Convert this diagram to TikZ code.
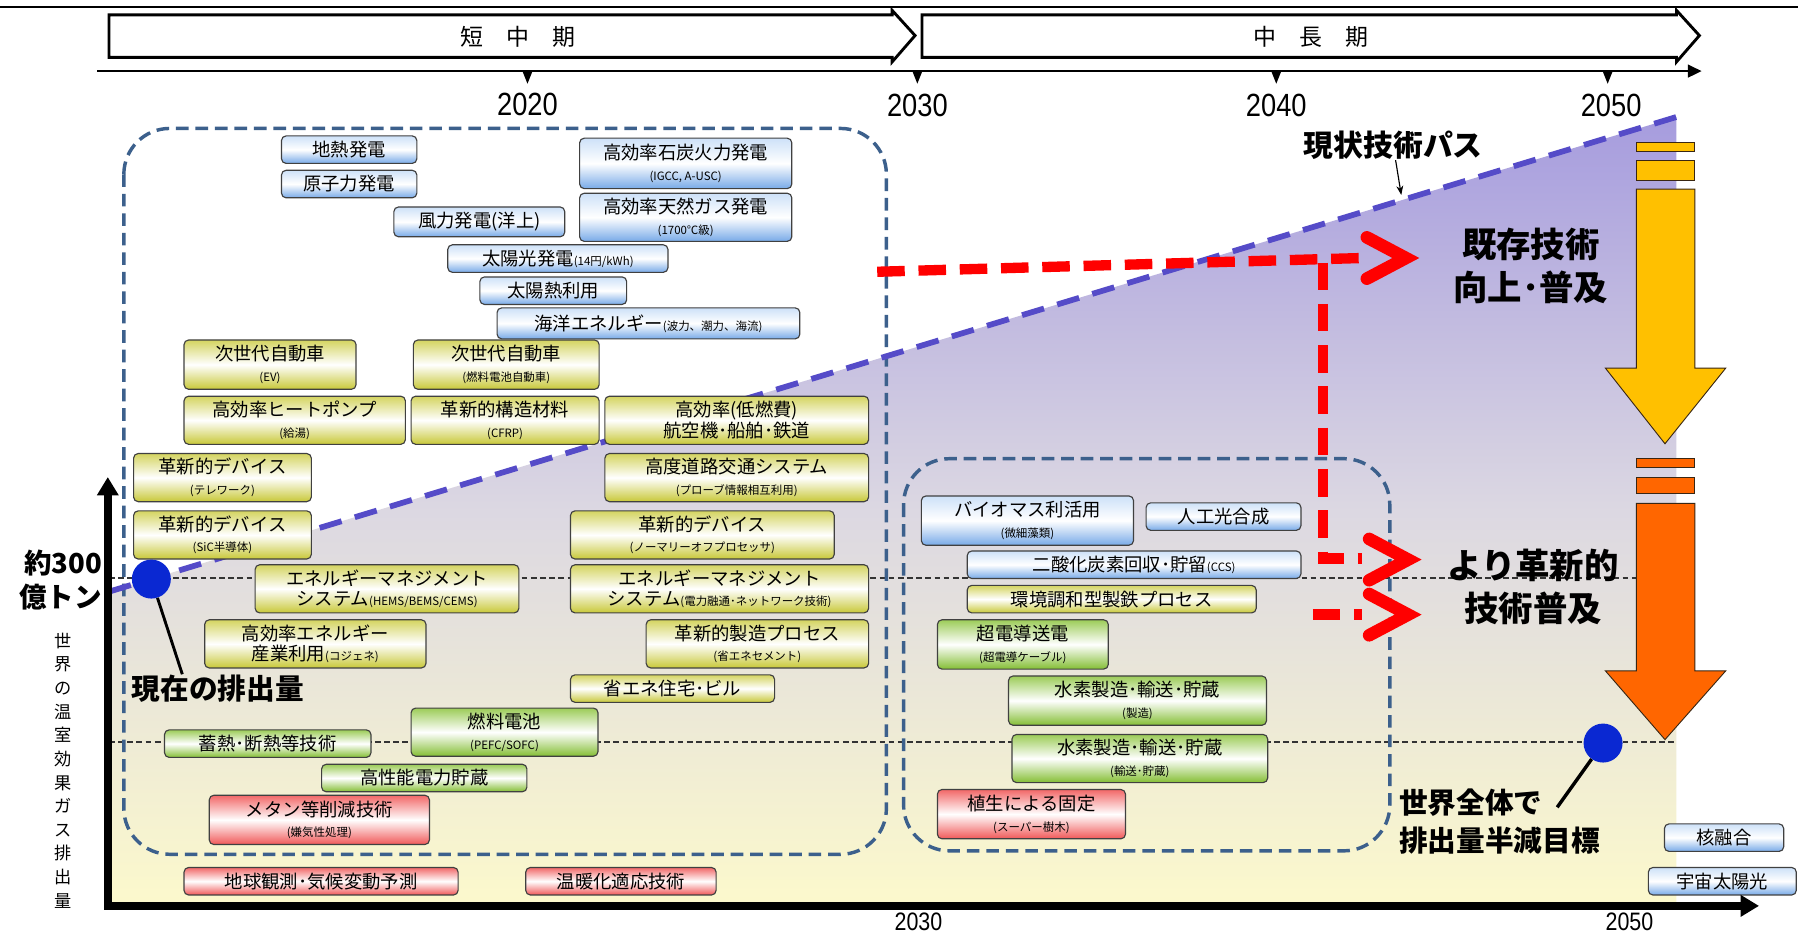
\documentclass[tikz,border=0pt]{standalone}
\usepackage{fontspec}
\usepackage{graphicx}
\setmainfont{Noto Sans CJK JP}
\newfontfamily\numfont{Liberation Sans}
\usetikzlibrary{arrows.meta}
\definecolor{bluetop}{RGB}{205,225,248}
\definecolor{bluebot}{RGB}{120,170,232}
\definecolor{yeltop}{RGB}{212,212,96}
\definecolor{yelbot}{RGB}{200,200,56}
\definecolor{grntop}{RGB}{156,204,88}
\definecolor{grnbot}{RGB}{132,190,52}
\definecolor{redtop}{RGB}{242,104,104}
\definecolor{redbot}{RGB}{240,88,88}
\definecolor{regblue}{RGB}{60,96,140}
\definecolor{pathpurple}{RGB}{85,75,200}
\definecolor{dotblue}{RGB}{10,40,210}
\definecolor{goldc}{RGB}{255,192,0}
\definecolor{orngc}{RGB}{255,102,0}
\definecolor{bgtop}{RGB}{166,156,222}
\definecolor{bgmid}{RGB}{220,216,226}
\definecolor{bgbot}{RGB}{252,249,204}
\newcommand{\smtxt}[1]{{\fontsize{10}{12}\selectfont #1}}
\newcommand{\mybox}[7]{\node[#2, minimum width={(#5-#3)*1pt}, minimum height={(#6-#4)*1pt}, anchor=north west] (#1) at (#3,#4) {#7};}
\tikzset{
  tbase/.style={draw=black!75, line width=1pt, rounded corners=4pt, inner sep=0pt, align=center, font=\fontsize{16}{18}\selectfont},
  bluebox/.style={tbase, top color=bluetop, bottom color=bluebot, middle color=white},
  yelbox/.style={tbase, top color=yeltop, bottom color=yelbot, middle color=white},
  grnbox/.style={tbase, top color=grntop, bottom color=grnbot, middle color=white},
  redbox/.style={tbase, top color=redtop, bottom color=redbot, middle color=white},
  regbox/.style={draw=regblue, line width=3pt, dash pattern=on 11pt off 6pt, rounded corners=40pt},
  pathline/.style={draw=pathpurple, line width=5pt, dash pattern=on 20pt off 12pt},
  hdash/.style={draw=black!80, line width=1.2pt, dash pattern=on 5pt off 3pt},
  reddash/.style={draw=red, line width=9pt, dash pattern=on 24pt off 12pt},
  redchev/.style={draw=red, line width=11pt, line join=miter, line cap=round},
  bigbold/.style={font=\fontsize{30}{38}\selectfont\bfseries, align=center, inner sep=0pt},
  midbold/.style={font=\fontsize{25}{33}\selectfont\bfseries, inner sep=0pt},
  yearlbl/.style={font=\fontsize{28}{28}\selectfont\numfont, inner sep=0pt},
  byearlbl/.style={font=\fontsize{22}{22}\selectfont\numfont, inner sep=0pt},
  phase/.style={font=\fontsize{20}{20}\selectfont, inner sep=0pt},
  axisline/.style={line width=7pt, black},
  goldarrow/.style={fill=goldc, draw=black!70!brown, line width=0.8pt},
  orngarrow/.style={fill=orngc, draw=black!70!brown, line width=0.8pt},
  dot/.style={circle, fill=dotblue, minimum size=34pt, inner sep=0pt}
}
\begin{document}
\begin{tikzpicture}[x=1pt,y=-1pt]
\useasboundingbox (0,0) rectangle (1568,816);
\clip (0,0) rectangle (1568,816);
\fill[white] (0,0) rectangle (1568,816);

% top rule and phase arrows
\draw[line width=1.5pt] (0,6) -- (1568,6);
\draw[line width=2.5pt, fill=white] (95,13) -- (778,13) -- (778,9) -- (798,31) -- (778,54) -- (778,50) -- (95,50) -- cycle;
\draw[line width=2.5pt, fill=white] (804,13) -- (1462,13) -- (1462,9) -- (1482,31) -- (1462,54) -- (1462,50) -- (804,50) -- cycle;
\node[phase] (short) at (452,32) {短\quad 中\quad 期};
\node[phase] (long) at (1143,32) {中\quad 長\quad 期};

% timeline
\draw[line width=2pt, -{Triangle[length=12pt,width=11pt]}] (85,62) -- (1484,62);
\foreach \x in {460,800,1113,1402} \fill (\x-4,63) -- (\x+4,63) -- (\x,73) -- cycle;
\node[yearlbl] (y20) at (460,91) {\scalebox{0.85}[1]{2020}};
\node[yearlbl] (y30) at (800,92) {\scalebox{0.85}[1]{2030}};
\node[yearlbl] (y40) at (1113,92) {\scalebox{0.85}[1]{2040}};
\node[yearlbl] (y50) at (1405,92) {\scalebox{0.85}[1]{2050}};

% shaded background
\shade[top color=bgtop, bottom color=bgbot, middle color=bgmid] (95,516) -- (1462,102) -- (1462,790) -- (95,790) -- cycle;

% horizontal dashed levels
\draw[hdash] (95,504) -- (1462,504);
\draw[hdash] (95,647) -- (1462,647);

% region boxes
\draw[regbox] (108,112) rectangle (773,745);
\draw[regbox] (788,400) rectangle (1212,742);

% current technology path
\draw[pathline] (95,516) -- (1462,102);

% gold and orange arrows
\filldraw[goldarrow] (1427,124) rectangle (1478,132);
\filldraw[goldarrow] (1427,140) rectangle (1478,157);
\filldraw[goldarrow] (1427,165) -- (1478,165) -- (1478,321) -- (1505,321) -- (1452,387) -- (1400,321) -- (1427,321) -- cycle;
\filldraw[orngarrow] (1427,400) rectangle (1478,408);
\filldraw[orngarrow] (1427,416) rectangle (1478,430);
\filldraw[orngarrow] (1427,439) -- (1478,439) -- (1478,585) -- (1505,585) -- (1452,645) -- (1400,585) -- (1427,585) -- cycle;

% red dashed arrows
\coordinate (r0) at (765,237);
\coordinate (r1) at (1188,225);
\coordinate (t1) at (1226,225);
\coordinate (v0) at (1154,229);
\coordinate (v1) at (1154,487);
\coordinate (r2) at (1188,487);
\coordinate (t2) at (1228,488);
\coordinate (s0) at (1145,536);
\coordinate (r3) at (1188,536);
\coordinate (t3) at (1228,536);
\draw[reddash] (r0) -- (r1);
\draw[reddash] (v0) -- (v1) -- (r2);
\draw[reddash] (s0) -- (r3);
\draw[redchev] (t1) ++(-34,-18) -- (t1) -- ++(-34,18);
\draw[redchev] (t2) ++(-34,-18) -- (t2) -- ++(-34,18);
\draw[redchev] (t3) ++(-34,-18) -- (t3) -- ++(-34,18);

% technology boxes
\mybox{geo}{bluebox}{245}{118}{363}{142}{地熱発電}
\mybox{nuc}{bluebox}{245}{148}{363}{172}{原子力発電}
\mybox{wind}{bluebox}{343}{180}{492}{206}{風力発電(洋上)}
\mybox{coal}{bluebox}{505}{120}{690}{164}{高効率石炭火力発電\\\smtxt{(IGCC, A-USC)}}
\mybox{gas}{bluebox}{505}{168}{690}{210}{高効率天然ガス発電\\\smtxt{(1700℃級)}}
\mybox{pv}{bluebox}{390}{213}{582}{237}{太陽光発電\smtxt{(14円/kWh)}}
\mybox{solth}{bluebox}{418}{241}{546}{265}{太陽熱利用}
\mybox{ocean}{bluebox}{433}{268}{697}{295}{海洋エネルギー\smtxt{(波力、潮力、海流)}}
\mybox{ev}{yelbox}{160}{296}{310}{339}{次世代自動車\\\smtxt{(EV)}}
\mybox{fcv}{yelbox}{360}{296}{522}{339}{次世代自動車\\\smtxt{(燃料電池自動車)}}
\mybox{hp}{yelbox}{160}{345}{353}{387}{高効率ヒートポンプ\\\smtxt{(給湯)}}
\mybox{cfrp}{yelbox}{358}{345}{522}{387}{革新的構造材料\\\smtxt{(CFRP)}}
\mybox{air}{yelbox}{527}{345}{757}{387}{高効率(低燃費)\\航空機･船舶･鉄道}
\mybox{tele}{yelbox}{116}{395}{271}{437}{革新的デバイス\\\smtxt{(テレワーク)}}
\mybox{its}{yelbox}{527}{395}{757}{437}{高度道路交通システム\\\smtxt{(プローブ情報相互利用)}}
\mybox{sic}{yelbox}{116}{445}{271}{487}{革新的デバイス\\\smtxt{(SiC半導体)}}
\mybox{nop}{yelbox}{497}{445}{727}{487}{革新的デバイス\\\smtxt{(ノーマリーオフプロセッサ)}}
\mybox{ems}{yelbox}{222}{492}{452}{534}{エネルギーマネジメント\\システム\smtxt{(HEMS/BEMS/CEMS)}}
\mybox{emsb}{yelbox}{497}{492}{757}{534}{エネルギーマネジメント\\システム\smtxt{(電力融通･ネットワーク技術)}}
\mybox{cogen}{yelbox}{178}{540}{371}{582}{高効率エネルギー\\産業利用\smtxt{(コジェネ)}}
\mybox{cement}{yelbox}{563}{540}{757}{582}{革新的製造プロセス\\\smtxt{(省エネセメント)}}
\mybox{house}{yelbox}{497}{588}{675}{612}{省エネ住宅･ビル}
\mybox{fc}{grnbox}{358}{617}{521}{659}{燃料電池\\\smtxt{(PEFC/SOFC)}}
\mybox{heat}{grnbox}{143}{636}{323}{660}{蓄熱･断熱等技術}
\mybox{stor}{grnbox}{280}{666}{459}{690}{高性能電力貯蔵}
\mybox{meth}{redbox}{182}{693}{374}{736}{メタン等削減技術\\\smtxt{(嫌気性処理)}}
\mybox{obs}{redbox}{160}{756}{399}{780}{地球観測･気候変動予測}
\mybox{adapt}{redbox}{458}{756}{624}{780}{温暖化適応技術}
\mybox{bio}{bluebox}{803}{432}{988}{475}{バイオマス利活用\\\smtxt{(微細藻類)}}
\mybox{art}{bluebox}{999}{438}{1134}{462}{人工光合成}
\mybox{ccs}{bluebox}{843}{480}{1134}{504}{二酸化炭素回収･貯留\smtxt{(CCS)}}
\mybox{steel}{yelbox}{843}{510}{1095}{534}{環境調和型製鉄プロセス}
\mybox{sc}{grnbox}{817}{540}{966}{583}{超電導送電\\\smtxt{(超電導ケーブル)}}
\mybox{hya}{grnbox}{879}{589}{1104}{632}{水素製造･輸送･貯蔵\\\smtxt{(製造)}}
\mybox{hyb}{grnbox}{882}{640}{1105}{682}{水素製造･輸送･貯蔵\\\smtxt{(輸送･貯蔵)}}
\mybox{veg}{redbox}{817}{688}{981}{731}{植生による固定\\\smtxt{(スーパー樹木)}}
\mybox{fus}{bluebox}{1451}{718}{1555}{742}{核融合}
\mybox{sps}{bluebox}{1437}{756}{1566}{780}{宇宙太陽光}

% axes
\coordinate (ytop) at (94,416);
\coordinate (orig) at (94,790);
\coordinate (xend) at (1534,790);
\draw[axisline, {Triangle[length=16pt,width=18pt]}-{Triangle[length=16pt,width=18pt]}] (ytop) -- (orig) -- (xend);
\node[byearlbl] (b30) at (801,803.5) {\scalebox{0.85}[1]{2030}};
\node[byearlbl] (b50) at (1421,803.5) {\scalebox{0.85}[1]{2050}};

% labels
\node[midbold, font=\fontsize{24}{30}\selectfont\bfseries, align=right, anchor=east] (amt) at (89,506) {約300\\億トン};
\node[font=\fontsize{15}{20.6}\selectfont, align=center, inner sep=0pt] (ylab) at (55,672) {世\\界\\の\\温\\室\\効\\果\\ガ\\ス\\排\\出\\量};

\node[dot] (now) at (132,505) {};
\node[dot] (goal) at (1398,648) {};
\node[midbold] (nowlbl) at (190,601) {現在の排出量};
\coordinate (p1) at (159,588);
\draw[line width=2.5pt] (now) -- (p1);
\node[midbold, align=left, anchor=north west] (goallbl) at (1220,688) {世界全体で\\排出量半減目標};
\coordinate (p2) at (1358,704);
\draw[line width=3pt] (goal) -- (p2);

\node[midbold, font=\fontsize{26}{30}\selectfont\bfseries] (pathlbl) at (1215,127) {現状技術パス};
\coordinate (p3) at (1222,170);
\draw[line width=1pt, -{Stealth[length=8pt,width=6pt]}] (pathlbl) -- (p3);

\node[bigbold] (exist) at (1335,232) {既存技術\\向上･普及};
\node[bigbold] (innov) at (1337,512) {より革新的\\技術普及};
\end{tikzpicture}
\end{document}
